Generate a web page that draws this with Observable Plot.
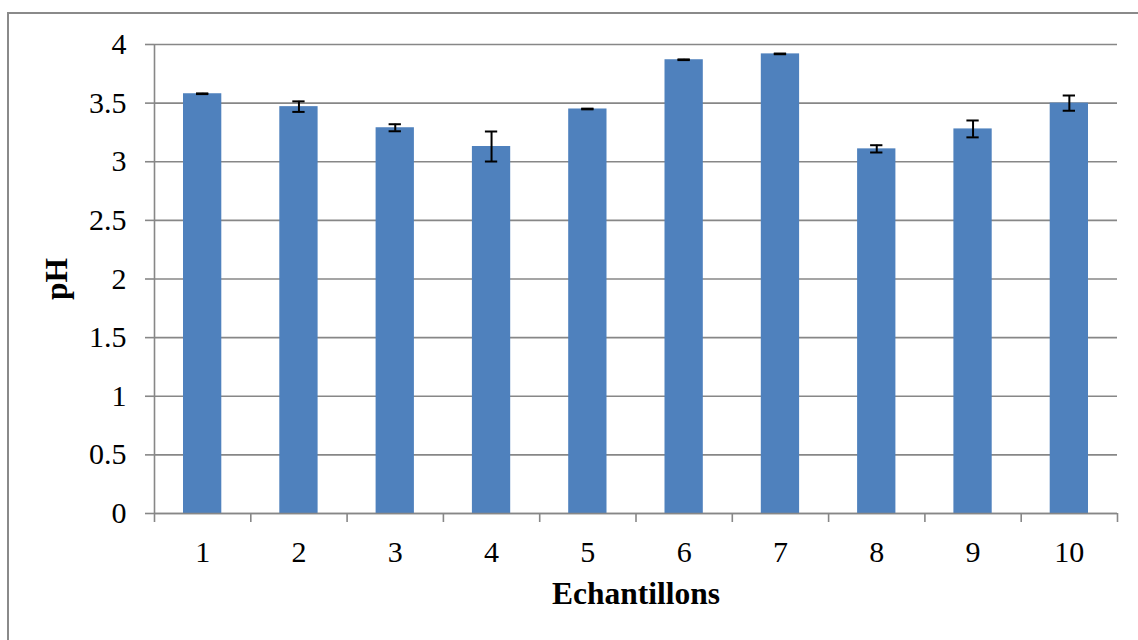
<!DOCTYPE html>
<html>
<head>
<meta charset="utf-8">
<script src="https://cdn.jsdelivr.net/npm/d3@7"></script>
<script src="https://cdn.jsdelivr.net/npm/@observablehq/plot@0.6"></script>
<style>
  html, body { margin: 0; padding: 0; background: #fff; overflow: hidden; }
  #wrap { position: relative; width: 1138px; height: 640px; }
  #border { position: absolute; left: 7px; top: 12px; width: 1200px; height: 700px; border: 2px solid #8a8a8a; box-sizing: border-box; }
  #chart { position: absolute; left: 0; top: 0; }
</style>
</head>
<body>
<div id="wrap"><div id="border"></div><div id="chart"></div></div>
<script>
const categories = [1, 2, 3, 4, 5, 6, 7, 8, 9, 10];
const phValues = [3.58, 3.47, 3.29, 3.13, 3.45, 3.87, 3.92, 3.11, 3.28, 3.50];
const phErrors = [0.003, 0.045, 0.03, 0.128, 0.003, 0.003, 0.003, 0.031, 0.072, 0.065];
const yTicks = [0, 0.5, 1, 1.5, 2, 2.5, 3, 3.5, 4];
const xTitle = "Echantillons";
const yTitle = "pH";

const data = categories.map((c, i) => ({n: c, v: phValues[i], e: phErrors[i]}));
const boundaries = categories.map(c => c - 0.5).concat([categories[categories.length - 1] + 0.5]);
const gray = "#878787";
const serif = "'Liberation Serif', 'Times New Roman', serif";

const chart = Plot.plot({
  width: 1138,
  height: 640,
  marginLeft: 154,
  marginRight: 21,
  marginTop: 44,
  marginBottom: 127,
  style: {fontFamily: serif, fontSize: "30px", color: "#000", background: "transparent"},
  x: {domain: [boundaries[0], boundaries[boundaries.length - 1]]},
  y: {domain: [0, 4]},
  marks: [
    Plot.gridY(yTicks, {stroke: gray, strokeOpacity: 1, strokeWidth: 1.6}),
    Plot.rectY(data, {x1: d => d.n - 0.5, x2: d => d.n + 0.5, y1: 0, y2: "v", fill: "#4F81BD", insetLeft: 29, insetRight: 29}),
    Plot.ruleX(data, {x: "n", y1: d => d.v - d.e, y2: d => d.v + d.e, stroke: "#000", strokeWidth: 2}),
    Plot.ruleY(data, {x1: d => d.n - 0.5, x2: d => d.n + 0.5, y: d => d.v + d.e, insetLeft: 42, insetRight: 42, stroke: "#000", strokeWidth: 2}),
    Plot.ruleY(data, {x1: d => d.n - 0.5, x2: d => d.n + 0.5, y: d => d.v - d.e, insetLeft: 42, insetRight: 42, stroke: "#000", strokeWidth: 2}),
    Plot.ruleX([boundaries[0]], {stroke: gray, strokeWidth: 1.6}),
    Plot.ruleY([0], {stroke: gray, strokeWidth: 1.6}),
    Plot.axisY(yTicks, {tickSize: 9, tickPadding: 19, stroke: gray, strokeWidth: 1.6, fill: "#000", fontSize: 30, fontFamily: serif, tickFormat: d => String(d), label: null}),
    Plot.axisX(boundaries, {tickSize: 9, stroke: gray, strokeWidth: 1.6, tickFormat: () => "", label: null}),
    Plot.axisX(categories, {tickSize: 0, tickPadding: 27, fill: "#000", fontSize: 30, fontFamily: serif, tickFormat: d => String(d), label: null}),
    Plot.text([xTitle], {frameAnchor: "bottom", dy: 90, fontWeight: "bold", fontSize: 31.5, fontFamily: serif, fill: "#000"}),
    Plot.text([yTitle], {frameAnchor: "left", textAnchor: "middle", dx: -98, rotate: -90, fontWeight: "bold", fontSize: 31.5, fontFamily: serif, fill: "#000"})
  ]
});
document.getElementById("chart").appendChild(chart);
</script>
</body>
</html>
